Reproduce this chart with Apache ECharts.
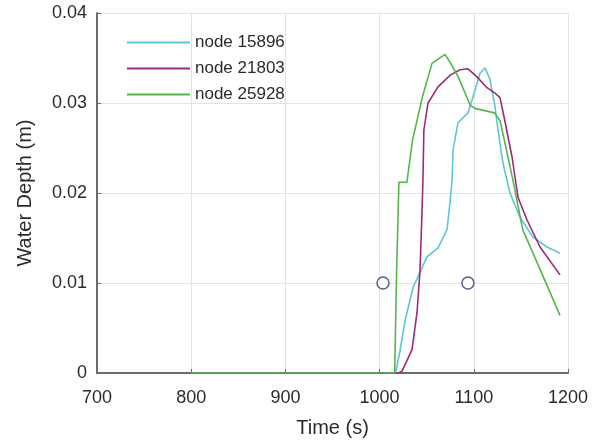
<!DOCTYPE html>
<html>
<head>
<meta charset="utf-8">
<script src="https://cdn.jsdelivr.net/npm/echarts@6/dist/echarts.min.js"></script>
<style>
  html, body { margin: 0; padding: 0; background: #fff; }
  #chart { width: 598px; height: 448px; }
</style>
</head>
<body>
<div id="chart"></div>
<script>
  // values: [time (s), depth (m)]
  var node15896 = [
    [800, 0], [1017, 0], [1018.5, 0.0002], [1021.7, 0.0025], [1027, 0.0058], [1035.5, 0.0095],
    [1050.3, 0.0129], [1062, 0.0139], [1071.5, 0.0159], [1074.7, 0.0189], [1076.9, 0.0214],
    [1078, 0.0248], [1083.2, 0.0278], [1093.8, 0.0289], [1099.2, 0.0307], [1106.6, 0.0333],
    [1111.9, 0.0339], [1117.2, 0.0326], [1122.5, 0.0296], [1125.7, 0.027], [1131, 0.0233],
    [1138.4, 0.02], [1149, 0.0173], [1162.8, 0.0151], [1177.7, 0.014], [1191.5, 0.0133]
  ];
  var node21803 = [
    [800, 0], [1020, 0], [1023.8, 0.0002], [1034.4, 0.0026], [1039.7, 0.0067], [1042.9, 0.0114],
    [1045, 0.0178], [1046, 0.0214], [1047, 0.027], [1051.4, 0.030], [1062, 0.0318],
    [1075, 0.0331], [1085.4, 0.0337], [1093.8, 0.0338], [1103.4, 0.0329], [1114, 0.0317],
    [1122.5, 0.0311], [1127.8, 0.0306], [1133, 0.028], [1140.6, 0.024], [1147, 0.0195],
    [1156.5, 0.017], [1170.3, 0.014], [1191.5, 0.0109]
  ];
  var node25928 = [
    [800, 0], [1016, 0], [1018, 0.011], [1020.5, 0.0212], [1029, 0.0212], [1035, 0.0259],
    [1045.5, 0.0307], [1055.6, 0.0344], [1069.4, 0.0354], [1075, 0.0345], [1083.5, 0.0329],
    [1096, 0.0298], [1101, 0.0294], [1122, 0.0289], [1128, 0.028], [1141.6, 0.0214],
    [1152, 0.0159], [1170, 0.0116], [1191.5, 0.0064]
  ];
  var probes = [[1003.6, 0.01], [1093.8, 0.01]];
  var seriesNames = ['node 15896', 'node 21803', 'node 25928'];
  var seriesColors = ['#5ec6d6', '#9c2a7c', '#55b64c'];

  var myChart = echarts.init(document.getElementById('chart'));

  function lineSeries(i, data) {
    return {
      name: seriesNames[i],
      type: 'line',
      data: data,
      showSymbol: false,
      symbol: 'none',
      lineStyle: { width: 1.6, color: seriesColors[i] },
      itemStyle: { color: seriesColors[i] },
      animation: false,
      z: 3
    };
  }

  var font = 'Liberation Sans';
  var textColor = '#2b2b2b';

  var option = {
    backgroundColor: '#fff',
    animation: false,
    grid: { left: 97, right: 30, top: 13, bottom: 75, containLabel: false },
    legend: {
      data: seriesNames,
      orient: 'vertical',
      left: 122,
      top: 29,
      itemWidth: 63,
      itemHeight: 2,
      itemGap: 9,
      icon: 'rect',
      textStyle: { color: textColor, fontSize: 17, fontFamily: font }
    },
    xAxis: {
      type: 'value',
      min: 700,
      max: 1200,
      interval: 100,
      name: 'Time (s)',
      nameLocation: 'middle',
      nameGap: 45,
      nameTextStyle: { color: textColor, fontSize: 20, fontFamily: font },
      axisLine: { show: true, onZero: false, lineStyle: { color: '#6b6b6b', width: 2 } },
      axisTick: { show: true, inside: true, length: 4, lineStyle: { color: '#6b6b6b' } },
      axisLabel: {
        margin: 16, color: textColor, fontSize: 18, fontFamily: font,
        formatter: function (v) { return String(v); }
      },
      splitLine: { show: true, lineStyle: { color: '#e3e3e3', width: 1 } }
    },
    yAxis: {
      type: 'value',
      min: 0,
      max: 0.04,
      interval: 0.01,
      name: 'Water Depth (m)',
      nameLocation: 'middle',
      nameGap: 62,
      nameTextStyle: { color: textColor, fontSize: 20, fontFamily: font },
      axisLine: { show: true, lineStyle: { color: '#6b6b6b', width: 2 } },
      axisTick: { show: true, inside: true, length: 4, lineStyle: { color: '#6b6b6b' } },
      axisLabel: { margin: 10, color: textColor, fontSize: 18, fontFamily: font },
      splitLine: { show: true, lineStyle: { color: '#e3e3e3', width: 1 } }
    },
    series: [
      lineSeries(0, node15896),
      lineSeries(1, node21803),
      lineSeries(2, node25928),
      {
        name: 'probes',
        type: 'scatter',
        data: probes,
        symbol: 'circle',
        symbolSize: 12,
        itemStyle: { color: '#fff', borderColor: '#2e3a6e', borderWidth: 1.5 },
        animation: false,
        z: 4
      }
    ]
  };
  option && myChart.setOption(option);
</script>
</body>
</html>
